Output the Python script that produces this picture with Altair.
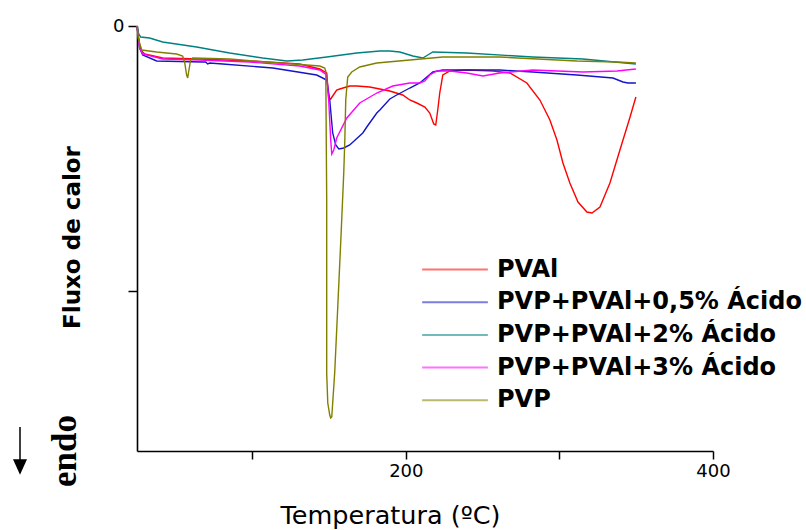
import altair as alt
import pandas as pd

# ---- data ----
series_names = ["PVAl", "PVP+PVAl+0,5% Ácido", "PVP+PVAl+2% Ácido",
                "PVP+PVAl+3% Ácido", "PVP"]
series_colors = ["#ff0000", "#1414c8", "#008080", "#ff00ff", "#808000"]

pval_t = [25, 26.7, 27.4, 30.0, 41.7, 65.8, 98.4, 130.9, 144.0, 148.5,
          149.8, 151.1, 152.4, 155.0, 157.0, 163.5, 168.1, 176.5, 189.6, 198.0,
          202.6, 207.2, 212.4, 215.6, 218.2, 219.5, 220.8, 222.1, 224.1, 228.7,
          239.7, 256.7, 267.8, 278.8, 287.3, 293.8, 298.4, 302.3, 306.8, 312.1,
          317.9, 321.2, 326.4, 332.9, 339.4, 346.0, 349.8]
pval_v = [0, -0.76, -0.96, -1.12, -1.28, -1.32, -1.40, -1.52, -1.72, -1.88,
          -2.88, -2.92, -2.80, -2.56, -2.52, -2.40, -2.40, -2.44, -2.60, -2.76,
          -2.96, -3.08, -3.24, -3.48, -3.92, -3.96, -3.36, -2.68, -1.96, -1.80,
          -1.76, -1.80, -1.88, -2.28, -2.96, -3.76, -4.56, -5.48, -6.28, -7.04,
          -7.44, -7.48, -7.24, -6.28, -4.96, -3.64, -2.84]

a05_t = [25, 26.7, 28.7, 37.8, 67.8, 69.7, 71.0, 72.4, 80.8, 113.4,
         142.0, 148.5, 150.5, 152.4, 154.4, 156.4, 159.6, 163.5, 172.0, 174.6,
         181.1, 183.1, 189.6, 194.1, 202.6, 209.1, 213.7, 217.6, 224.1, 261.2,
         282.7, 311.4, 334.9, 341.4, 344.6, 349.8]
a05_v = [0, -0.88, -1.16, -1.40, -1.44, -1.44, -1.52, -1.48, -1.52, -1.68,
         -1.96, -2.16, -2.96, -4.28, -4.76, -4.92, -4.88, -4.76, -4.28, -4.04,
         -3.48, -3.36, -2.92, -2.76, -2.48, -2.28, -2.04, -1.84, -1.76, -1.76,
         -1.84, -1.96, -2.08, -2.24, -2.28, -2.28]

a2_t = [25, 26.1, 27.4, 33.2, 41.7, 63.8, 85.3, 106.8, 122.5, 132.9,
        148.5, 168.1, 183.1, 189.6, 196.1, 204.6, 211.1, 214.3, 217.6, 239.7,
        282.7, 315.3, 349.8]
a2_v = [0, -0.32, -0.44, -0.48, -0.64, -0.84, -1.08, -1.28, -1.40, -1.36,
        -1.24, -1.08, -1.00, -1.00, -1.04, -1.20, -1.28, -1.16, -1.04, -1.08,
        -1.24, -1.32, -1.52]

a3_t = [25, 26.7, 28.7, 41.7, 65.8, 98.4, 130.9, 144.0, 148.5, 149.8,
        151.1, 151.8, 153.1, 155.0, 161.6, 170.0, 181.1, 191.5, 202.6, 209.1,
        212.4, 215.6, 220.2, 228.7, 239.7, 250.2, 261.2, 282.7, 315.3, 337.5,
        349.8]
a3_v = [0, -0.88, -1.12, -1.32, -1.36, -1.44, -1.60, -1.76, -1.96, -2.96,
        -4.56, -5.12, -4.96, -4.48, -3.68, -3.08, -2.68, -2.40, -2.28, -2.28,
        -2.20, -1.96, -1.80, -1.80, -1.88, -2.00, -1.88, -1.76, -1.84, -1.80,
        -1.72]

pvp_t = [25, 26.1, 28.1, 37.8, 50.8, 54.7, 56.0, 57.3, 58.0, 58.6,
         59.9, 61.2, 85.3, 117.9, 144.0, 147.2, 147.9, 148.5, 148.5, 149.2,
         150.5, 151.1, 151.8, 152.4, 153.7, 155.7, 157.7, 159.6, 160.3, 160.9,
         162.2, 164.8, 170.0, 181.1, 202.6, 224.1, 261.2, 311.4, 337.5, 349.8]
pvp_v = [0, -0.56, -0.96, -1.04, -1.12, -1.20, -1.44, -1.96, -2.08, -1.84,
         -1.36, -1.28, -1.32, -1.48, -1.60, -1.68, -1.80, -6.96, -13.88, -15.08,
         -15.56, -15.68, -15.64, -15.08, -13.88, -11.24, -8.56, -5.88, -4.56, -2.96,
         -2.04, -1.84, -1.64, -1.48, -1.36, -1.24, -1.24, -1.40, -1.44, -1.48]

x_ticks = [100, 200, 300, 400]
y_ticks = [0, -10.6]

rows = []
for name, ts, vs in zip(series_names,
                        [pval_t, a05_t, a2_t, a3_t, pvp_t],
                        [pval_v, a05_v, a2_v, a3_v, pvp_v]):
    for i, (t, v) in enumerate(zip(ts, vs)):
        rows.append({"serie": name, "T": t, "v": v, "i": i})
df = pd.DataFrame(rows)

lines = alt.Chart(df).mark_line(strokeWidth=1.4).encode(
    x=alt.X("T:Q",
            scale=alt.Scale(domain=[25, 400], nice=False, zero=False),
            axis=alt.Axis(values=x_ticks,
                          labelExpr="datum.value == 200 || datum.value == 400 ? datum.label : ''",
                          grid=False, tickSize=8, tickWidth=1.5, domainWidth=1.6,
                          labelFont="DejaVu Sans", labelFontSize=18, labelPadding=3,
                          labelFlush=False, labelOverlap=False, labelColor="black",
                          title="Temperatura (ºC)", titleFont="DejaVu Sans",
                          titleFontSize=25.5, titleFontWeight="normal",
                          titleColor="black", titleX=253, titleY=72,
                          titleBaseline="alphabetic")),
    y=alt.Y("v:Q",
            scale=alt.Scale(domain=[-17, 0], nice=False, zero=False),
            axis=alt.Axis(values=y_ticks,
                          labelExpr="datum.value == 0 ? '0' : ''",
                          grid=False, tickSize=9, tickWidth=1.5, domainWidth=1.6,
                          labelFont="DejaVu Sans", labelFontSize=18, labelPadding=4,
                          labelOverlap=False, labelColor="black",
                          title="Fluxo de calor", titleFont="DejaVu Sans",
                          titleFontSize=23, titleFontWeight="bold",
                          titleColor="black", titleX=-58, titleY=211,
                          titleBaseline="alphabetic")),
    color=alt.Color("serie:N",
                    scale=alt.Scale(domain=series_names, range=series_colors),
                    legend=alt.Legend(title=None, orient="none",
                                      legendX=306, legendY=231.5,
                                      symbolType="M-6,0H6", symbolSize=120,
                                      symbolStrokeWidth=2, symbolOpacity=0.55,
                                      labelFont="DejaVu Sans", labelFontSize=24,
                                      labelFontWeight="bold", labelColor="black",
                                      labelOffset=30, rowPadding=8.7,
                                      labelLimit=500)),
    order=alt.Order("i:Q"),
)

endo = alt.Chart(pd.DataFrame({"t": ["endo"]})).mark_text(
    font="Liberation Serif", fontWeight="bold", fontSize=35, angle=270,
    baseline="alphabetic", align="center", color="black"
).encode(text="t:N", x=alt.value(-61), y=alt.value(425))

arrow_line = alt.Chart(pd.DataFrame({"a": [0]})).mark_rule(
    color="black", strokeWidth=1.5
).encode(x=alt.value(-117), y=alt.value(401), y2=alt.value(436))

arrow_head = alt.Chart(pd.DataFrame({"a": [0]})).mark_point(
    shape="M-1,-1.1L1,-1.1L0,1.1Z", filled=True, color="black", opacity=1,
    size=196
).encode(x=alt.value(-117), y=alt.value(441))

chart = alt.layer(lines, endo, arrow_line, arrow_head).properties(
    width=576, height=425,
    autosize=alt.AutoSizeParams(type="none"),
    padding={"left": 137, "top": 26, "right": 93, "bottom": 79},
    background="white",
).configure_view(stroke=None).configure_axis(
    domainColor="black", tickColor="black"
)

chart.save("out.html", embed_options={"renderer": "svg", "actions": False})
